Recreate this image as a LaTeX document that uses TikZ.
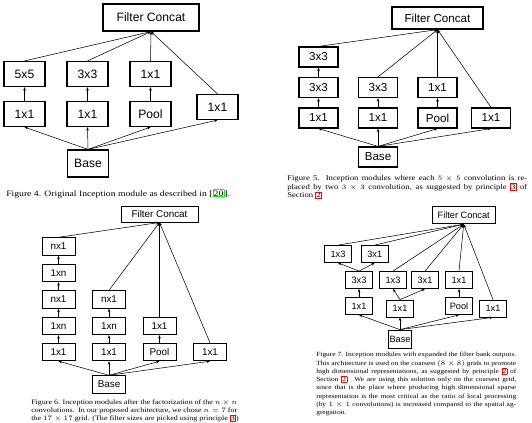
\documentclass[tikz,border=0pt]{standalone}
\usepackage{fontspec}
\setmainfont{Liberation Serif}
\setsansfont{Liberation Sans}
\newfontfamily\capfont[FakeStretch=1.18]{Liberation Serif}
\usetikzlibrary{arrows.meta}
\newcommand{\capline}[2]{\makebox[#1][s]{#2}}
\newcommand{\gref}[1]{{\setlength{\fboxsep}{0.3pt}\setlength{\fboxrule}{0.5pt}\fcolorbox{green}{white}{#1}}}
\newcommand{\rref}[1]{{\setlength{\fboxsep}{0.3pt}\setlength{\fboxrule}{0.5pt}\fcolorbox{red}{white}{#1}}}
\begin{document}
\begin{tikzpicture}[x=0.75pt,y=-0.75pt,>={Stealth[length=2.6pt,width=2pt]},
	blk/.style={draw,inner sep=0pt,line width=0.9pt},
	boxA/.style={blk,minimum width=30.75pt,minimum height=18.75pt,font=\sffamily\fontsize{9.1}{10}\selectfont},
	wideA/.style={boxA,minimum width=72pt,minimum height=20.25pt},
	boxB/.style={blk,minimum width=29.25pt,minimum height=15pt,font=\sffamily\fontsize{8.7}{10}\selectfont},
	wideB/.style={boxB,minimum width=68.25pt,minimum height=16.5pt},
	boxC/.style={blk,line width=0.7pt,minimum width=24.75pt,minimum height=13.1pt,font=\sffamily\fontsize{7.4}{8}\selectfont},
	wideC/.style={boxC,minimum width=57.75pt,minimum height=12pt},
	boxD/.style={blk,line width=0.6pt,minimum width=20.25pt,minimum height=12.75pt,font=\sffamily\fontsize{6.9}{8}\selectfont},
	wideD/.style={boxD,minimum width=47.25pt,minimum height=12.75pt},
	con/.style={->,line width=0.4pt},
	captxt/.style={inner sep=0pt,align=left,anchor=north west}]
	\useasboundingbox[fill=white] (0,0) rectangle (532,422);

	\node[wideA] (fcA) at (151,17.5) {Filter Concat};
	\node[boxA] (a55) at (24.5,74) {5x5};
	\node[boxA] (a33) at (87.5,74) {3x3};
	\node[boxA] (a11t) at (150.5,74) {1x1};
	\node[boxA] (a11a) at (24.5,114) {1x1};
	\node[boxA] (a11b) at (87.5,114) {1x1};
	\node[boxA] (apool) at (150.5,114) {Pool};
	\node[boxA] (a11r) at (217.5,107) {1x1};
	\node[boxA,minimum height=20.25pt] (baseA) at (88,163.5) {Base};
	\foreach \n in {a55,a33,a11t,a11r} \draw[con] (\n.north) -- (fcA.south);
	\foreach \a/\b in {a11a/a55,a11b/a33,apool/a11t} \draw[con] (\a.north) -- (\b.south);
	\foreach \n in {a11a,a11b,apool,a11r} \draw[con] (baseA.north) -- (\n.south);
	\node[anchor=base west,inner sep=0pt,font=\capfont\fontsize{6.15}{7}\selectfont] (capA) at (6,196)
		{Figure 4. Original Inception module as described in [\gref{20}].};

	\node[wideB] (fcB) at (437.5,18) {Filter Concat};
	\node[boxB] (b33t) at (318.5,57) {3x3};
	\node[boxB] (b33a) at (318.5,87.5) {3x3};
	\node[boxB] (b33b) at (378,87.5) {3x3};
	\node[boxB] (b11t) at (437.5,87.5) {1x1};
	\node[boxB] (b11a) at (318.5,118) {1x1};
	\node[boxB] (b11b) at (378,118) {1x1};
	\node[boxB] (bpool) at (437.5,118) {Pool};
	\node[boxB] (b11r) at (491,118) {1x1};
	\node[boxB] (baseB) at (378,157) {Base};
	\foreach \n in {b33t,b33b,b11t,b11r} \draw[con] (\n.north) -- (fcB.south);
	\foreach \a/\b in {b33a/b33t,b11a/b33a,b11b/b33b,bpool/b11t} \draw[con] (\a.north) -- (\b.south);
	\foreach \n in {b11a,b11b,bpool,b11r} \draw[con] (baseB.north) -- (\n.south);
	\node[captxt,font=\capfont\fontsize{5.5}{6.4}\selectfont] (capB) at (287,175.2)
		{\capline{180pt}{Figure 5. Inception modules where each $5\times5$ convolution is re-}\\
		\capline{180pt}{placed by two $3\times3$ convolution, as suggested by principle \rref{3} of}\\
		Section \rref{2}};

	\node[wideC] (fcC) at (159.5,214) {Filter Concat};
	\node[boxC] (cn1a) at (58.5,246.5) {nx1};
	\node[boxC] (c1na) at (58.5,273) {1xn};
	\node[boxC] (cn1b) at (58.5,299.5) {nx1};
	\node[boxC] (c1nb) at (58.5,326) {1xn};
	\node[boxC] (c11a) at (58.5,352) {1x1};
	\node[boxC] (cn1c) at (109,299.5) {nx1};
	\node[boxC] (c1nc) at (109,326) {1xn};
	\node[boxC] (c11b) at (109,352) {1x1};
	\node[boxC] (c11t) at (159.5,326) {1x1};
	\node[boxC] (cpool) at (159.5,352) {Pool};
	\node[boxC] (c11r) at (210,352) {1x1};
	\node[boxC] (baseC) at (109,384.5) {Base};
	\foreach \n in {cn1a,cn1c,c11t,c11r} \draw[con] (\n.north) -- (fcC.south);
	\foreach \a/\b in {c11a/c1nb,c1nb/cn1b,cn1b/c1na,c1na/cn1a,c11b/c1nc,c1nc/cn1c,cpool/c11t}
		\draw[con] (\a.north) -- (\b.south);
	\foreach \n in {c11a,c11b,cpool,c11r} \draw[con] (baseC.north) -- (\n.south);
	\node[captxt,font=\capfont\fontsize{5.1}{6.15}\selectfont] (capC) at (31,399.1)
		{\capline{154.5pt}{Figure 6. Inception modules after the factorization of the $n\times n$}\\
		\capline{154.5pt}{convolutions.\ \ In our proposed architecture, we chose $n=7$ for}\\
		the $17\times17$ grid. (The filter sizes are picked using principle \rref{3})};

	\node[wideD] (fcD) at (463.7,215.3) {Filter Concat};
	\node[boxD] (d13t) at (338,254) {1x3};
	\node[boxD] (d31t) at (374.7,254) {3x1};
	\node[boxD] (d33) at (359,280) {3x3};
	\node[boxD] (d13) at (393,280) {1x3};
	\node[boxD] (d31) at (425,280) {3x1};
	\node[boxD] (d11t) at (459,280) {1x1};
	\node[boxD] (d11a) at (359,306) {1x1};
	\node[boxD] (d11b) at (400,308.5) {1x1};
	\node[boxD] (dpool) at (459,306) {Pool};
	\node[boxD] (d11r) at (493,308.5) {1x1};
	\node[boxD,minimum width=17.25pt,minimum height=13.5pt] (baseD) at (400,339) {Base};
	\foreach \n in {d13t,d31t,d13,d31,d11t,d11r} \draw[con] (\n.north) -- (fcD.south);
	\foreach \a/\b in {d33/d13t,d33/d31t,d11a/d33,d11b/d13,d11b/d31,dpool/d11t}
		\draw[con] (\a.north) -- (\b.south);
	\foreach \n in {d11a,d11b,dpool,d11r} \draw[con] (baseD.north) -- (\n.south);
	\node[captxt,font=\capfont\fontsize{4.75}{6.2}\selectfont] (capD) at (316,352.2)
		{\capline{150pt}{Figure 7. Inception modules with expanded the filter bank outputs.}\\
		\capline{150pt}{This architecture is used on the coarsest $(8\times8)$ grids to promote}\\
		\capline{150pt}{high dimensional representations, as suggested by principle \rref{2} of}\\
		\capline{150pt}{Section \rref{2}.\ \ We are using this solution only on the coarsest grid,}\\
		\capline{150pt}{since that is the place where producing high dimensional sparse}\\
		\capline{150pt}{representation is the most critical as the ratio of local processing}\\
		\capline{150pt}{(by $1\times1$ convolutions) is increased compared to the spatial ag-}\\
		gregation.};
\end{tikzpicture}
\end{document}
